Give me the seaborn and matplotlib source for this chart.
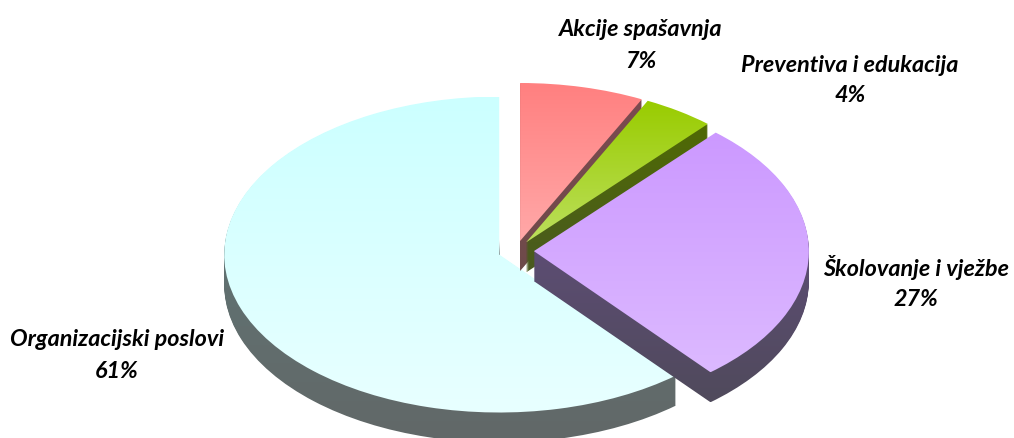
import numpy as np
import seaborn as sns
import matplotlib.pyplot as plt

# --- Podaci ---
NAZIVI = ["Akcije spašavnja", "Preventiva i edukacija", "Školovanje i vježbe", "Organizacijski poslovi"]
POSTOCI = [7.3, 4.2, 27.4, 61.1]

# --- Boje: gornja ploha i bok, od vrha prema dnu ---
TOP_BOJE = [("#ff8080", "#ffa8a8"), ("#99cc00", "#bcdf5c"), ("#cc99ff", "#dcb9ff"), ("#ccffff", "#e8ffff")]
BOK_BOJE = [("#7d4a50", "#6e4a4a"), ("#506c00", "#4a5a20"), ("#664f85", "#504a5c"), ("#5f7a7a", "#626868")]

# --- Geometrija u pikselima slike ---
W, H = 1014, 439
CX, CY, RX, RY = 516, 252, 275, 158
DUBINA = 30
EXPLODE = [0.065] * 4
REDOSLIJED = [3, 0, 1, 2]  # organizacijski ide prvi, ostali preko njega

LABEL_POS = [(641, 29, 61), (850, 65, 96), (916, 268, 300), (117, 340, 372)]


def px_x(x):
    return (x - CX) / RX


def px_y(y):
    return (CY - y) / RY


def gradijent(ax, wedge, boje, raspon, zorder):
    gore, dolje = raspon
    xmin, xmax = wedge.get_path().get_extents().intervalx
    paleta = np.array(sns.blend_palette(boje, 64))[:, :3]
    im = ax.imshow(paleta.reshape(64, 1, 3), extent=(xmin, xmax, dolje, gore),
                   aspect="auto", zorder=zorder, interpolation="bilinear")
    im.set_clip_path(wedge)


sns.set_theme(style="white")
plt.rcParams["font.family"] = ["Lato", "DejaVu Sans"]

fig = plt.figure(figsize=(W / 100, H / 100), dpi=100)
ax = fig.add_axes([0, 0, 1, 1])

# slojevi od dna prema vrhu daju bok kolača
for k in range(DUBINA, -1, -1):
    wedges, _ = ax.pie(POSTOCI, explode=EXPLODE, startangle=90, counterclock=False,
                       center=(0, -k / RY), wedgeprops={"linewidth": 0})
    for i, w in enumerate(wedges):
        w.set_visible(False)
        z = 10 + REDOSLIJED.index(i) * 100 + (DUBINA - k)
        if k > 0 and i == 3:
            # bok ne smije provirivati na ravnom rubu kod x=500
            w.set_theta1(w.theta1 + 0.4)
        ext = w.get_path().get_extents()
        if k == 0:
            gradijent(ax, w, TOP_BOJE[i], (ext.ymax, ext.ymin), z)
        else:
            # bok: boja ovisi o visini na slici, isto za sve slojeve
            gore = ext.ymax + k / RY
            dolje = ext.ymin + k / RY - DUBINA / RY
            gradijent(ax, w, BOK_BOJE[i], (gore, dolje), z)

for naziv, pct, (x, y1, y2) in zip(NAZIVI, POSTOCI, LABEL_POS):
    ax.text(px_x(x), px_y(y1), naziv, ha="center", va="center", fontsize=16.8,
            fontweight="bold", fontstyle="italic", color="black", zorder=1000)
    ax.text(px_x(x), px_y(y2), f"{pct:.0f}%", ha="center", va="center", fontsize=16.8,
            fontweight="bold", fontstyle="italic", color="black", zorder=1000)

ax.set_aspect("auto")
ax.set_xlim(px_x(0), px_x(W))
ax.set_ylim(px_y(H), px_y(0))
ax.axis("off")

fig.savefig("out.png", dpi=100, facecolor="white")
plt.close(fig)
